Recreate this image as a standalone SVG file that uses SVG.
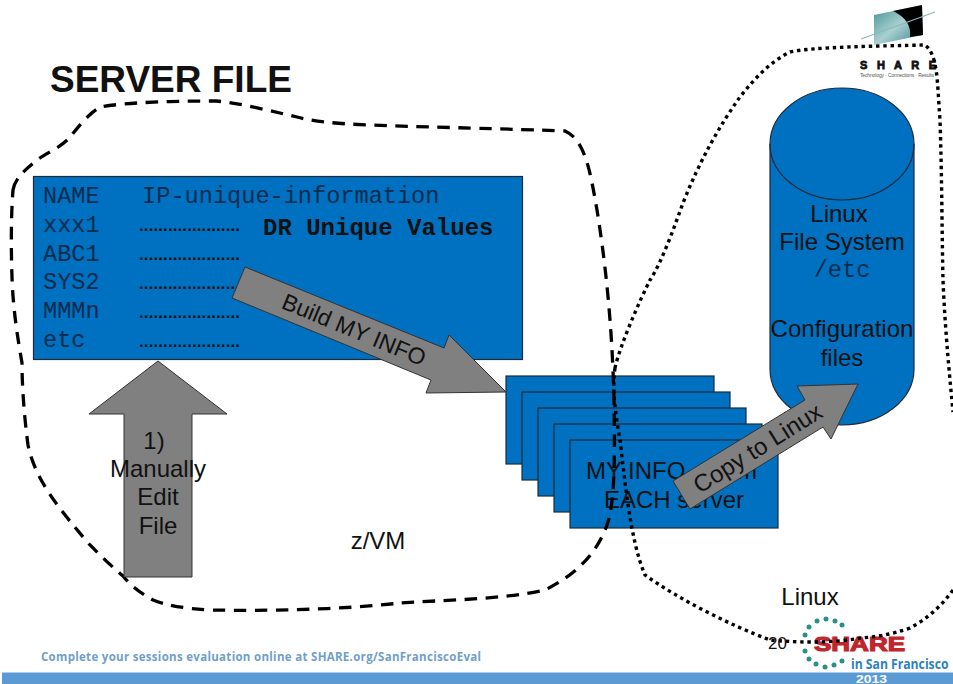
<svg xmlns="http://www.w3.org/2000/svg" width="953" height="684" viewBox="0 0 953 684">
<style>
.b{fill:#0070c0;stroke:#1c2b3a;stroke-width:1.2}
.g{fill:#808080;stroke:#333;stroke-width:1}
.t{font-family:"Liberation Sans",Arial,sans-serif;font-size:24px;fill:#111;text-anchor:middle}
.m{font-family:"Liberation Mono","Courier New",monospace;font-size:23.6px;fill:#0b2c4d}
.d{font-family:"Liberation Sans",Arial,sans-serif;font-size:17px;font-weight:700;fill:#111}
.dash{fill:none;stroke:#000;stroke-width:3.300;stroke-dasharray:12.500 8.500}
.dot{fill:none;stroke:#000;stroke-width:3.400;stroke-dasharray:3.400 3.800}
</style>
<defs>
<linearGradient id="globe" x1="0" y1="0" x2="1" y2="1"><stop offset="0" stop-color="#3f8f94"/><stop offset=".5" stop-color="#a9d0d0"/><stop offset="1" stop-color="#2f8087"/></linearGradient>
</defs>
<rect width="953" height="684" fill="#fff"/>
<text id="title" x="50" y="92" font-family="Liberation Sans,Arial,sans-serif" font-size="37" font-weight="700" fill="#111">SERVER FILE</text>
<g id="logo-top">
<polygon points="874,15 922,5 923,35 874,45" fill="url(#globe)"/>
<path d="M893,11 L922,5 L923,35 L910,37 Q912,20 893,11Z" fill="#000"/>
<path d="M861,39 L935,12" stroke="#8fb5b8" stroke-width="1.200"/>
<text x="898" y="68.500" font-family="Liberation Sans,Arial,sans-serif" font-size="11" font-weight="700" fill="#111" stroke="#111" stroke-width=".8" text-anchor="middle" textLength="76">S H A R E</text>
<text x="897" y="77" font-family="Liberation Sans,Arial,sans-serif" font-size="5" fill="#555" text-anchor="middle" textLength="74">Technology · Connections · Results</text>
</g>
<g id="logo-bottom">
<g fill="#2a8f86">
<circle cx="826" cy="619" r="2.500"/><circle cx="817" cy="621" r="2.500"/><circle cx="835" cy="621" r="2.500"/><circle cx="842" cy="625" r="2.500"/><circle cx="809" cy="627" r="2.500"/><circle cx="805" cy="635" r="2.500"/><circle cx="805" cy="651" r="2.500"/><circle cx="809" cy="659" r="2.500"/><circle cx="816" cy="664" r="2.500"/><circle cx="825" cy="667" r="2.500"/><circle cx="834" cy="665" r="2.500"/><circle cx="842" cy="661" r="2.500"/>
</g>
<text x="814" y="651" font-family="Liberation Sans,Arial,sans-serif" font-size="21" font-weight="700" fill="#c0272d" stroke="#c0272d" stroke-width="1.200" textLength="91" lengthAdjust="spacingAndGlyphs">SHARE</text>
<text transform="translate(851,669) scale(.84,1)" font-family="Open Sans,Liberation Sans,sans-serif" font-size="14.500" font-weight="700" fill="#2f7fc1">in San Francisco</text>
</g>
<g id="server-file">
<rect class="b" x="33.500" y="176.500" width="489" height="183"/>
<text class="m" x="43" y="203" xml:space="preserve">NAME   IP-unique-information</text>
<text class="m" x="43" y="232">xxx1</text>
<text class="m" x="43" y="261">ABC1</text>
<text class="m" x="43" y="289">SYS2</text>
<text class="m" x="43" y="318">MMMn</text>
<text class="m" x="43" y="347">etc</text>
<text class="d" x="139" y="231" textLength="101">.....................</text>
<text class="d" x="139" y="260" textLength="101">.....................</text>
<text class="d" x="139" y="289" textLength="101">.....................</text>
<text class="d" x="139" y="318" textLength="101">.....................</text>
<text class="d" x="139" y="347" textLength="101">.....................</text>
<text x="263" y="235" font-family="Liberation Mono,Courier New,monospace" font-size="24" font-weight="700" fill="#111">DR Unique Values</text>
</g>
<g id="my-info">
<rect class="b" x="506" y="376" width="208" height="88"/>
<rect class="b" x="522" y="392" width="208" height="88"/>
<rect class="b" x="538" y="408" width="208" height="88"/>
<rect class="b" x="554" y="424" width="208" height="88"/>
<rect class="b" x="570" y="440" width="208" height="88"/>
<text class="t" y="479" style="text-anchor:start"><tspan x="586">MY</tspan> <tspan x="628">INFO</tspan> <tspan x="709">from</tspan></text>
<text class="t" x="674" y="508">EACH server</text>
</g>
<g id="linux-fs">
<path class="b" d="M770,144 A72,56 0 0 1 914,144 V369 A72,56 0 0 1 770,369Z"/>
<path d="M770,144 A72,56 0 0 0 914,144" fill="none" stroke="#1c2b3a" stroke-width="1.200"/>
<text class="t" x="839" y="222">Linux</text>
<text class="t" x="842" y="250">File System</text>
<text class="m" x="842" y="277" text-anchor="middle">/etc</text>
<text class="t" x="842" y="337">Configuration</text>
<text class="t" x="842" y="366">files</text>
</g>
<g id="connectors">
<path class="dash" d="M13,190 C15,178 25,170 37,160 C48,152 62,147 71,136 C78,127 90,112 101,107 C125,102 180,101 216,101 C240,103 275,112 297,117 C312,121 335,124 372,125 C420,127 480,128 565,131 C585,140 590,170 597,210 C605,260 612,320 614,400 C615,460 615,510 605,530 C595,555 575,575 545,590 C500,600 440,600 400,603 C340,610 260,611 213,610 C185,609 165,605 153,600 C140,593 130,585 123,576 C110,565 100,555 90,545 C60,510 35,480 28,445 C24,415 22,385 22,363 C18,340 13,310 12,277 C11,250 11,215 13,190Z"/>
<path class="dot" d="M615,368 C620,345 640,300 650,280 C662,262 675,225 683,203 C700,160 720,125 740,97 C755,78 770,62 790,52 C810,47 880,46 925,45 C938,55 937,80 940,120 C942,180 942,240 943,280 C945,330 950,380 953,412 M953,590 C940,608 925,620 910,628 C890,635 875,637 860,638 C830,644 790,642 770,640 C730,625 680,600 645,575 C630,540 625,480 620,440 C615,410 612,390 615,368"/>
</g>
<g id="arrow-build">
<polygon class="g" points="245,267 444,348 449,335 506,392 426,393 431,380 232,298"/>
<text class="t" transform="translate(351,337) rotate(22.500)" style="font-size:23px">Build MY INFO</text>
</g>
<g id="arrow-edit">
<polygon class="g" points="158,361 227,414 192,414 192,577 124,577 124,414 89,414"/>
<text class="t" x="154" y="449">1)</text>
<text class="t" x="158" y="477">Manually</text>
<text class="t" x="158" y="505">Edit</text>
<text class="t" x="158" y="534">File</text>
</g>
<g id="arrow-copy">
<polygon class="g" points="673,481 805,400 797,386 858,384 831,439 823,427 690,509"/>
<text class="t" transform="translate(762,455) rotate(-32)">Copy to Linux</text>
</g>
<text id="zvm" class="t" x="378" y="549">z/VM</text>
<text id="linux" class="t" x="810" y="605">Linux</text>
<text id="page" x="768" y="649" font-family="Liberation Sans,Arial,sans-serif" font-size="17" fill="#111">20</text>
<text id="eval" x="41" y="661" font-family="Open Sans,Liberation Sans,sans-serif" font-size="11.500" font-weight="700" fill="#6f9fc8" textLength="440">Complete your sessions evaluation online at SHARE.org/SanFranciscoEval</text>
<rect id="bar" x="2" y="672.500" width="951" height="11.500" fill="#5b9bd5"/>
<text id="year" x="856" y="683" font-family="Liberation Sans,Arial,sans-serif" font-size="10" font-weight="700" fill="#fff" textLength="31" lengthAdjust="spacingAndGlyphs">2013</text>
</svg>
